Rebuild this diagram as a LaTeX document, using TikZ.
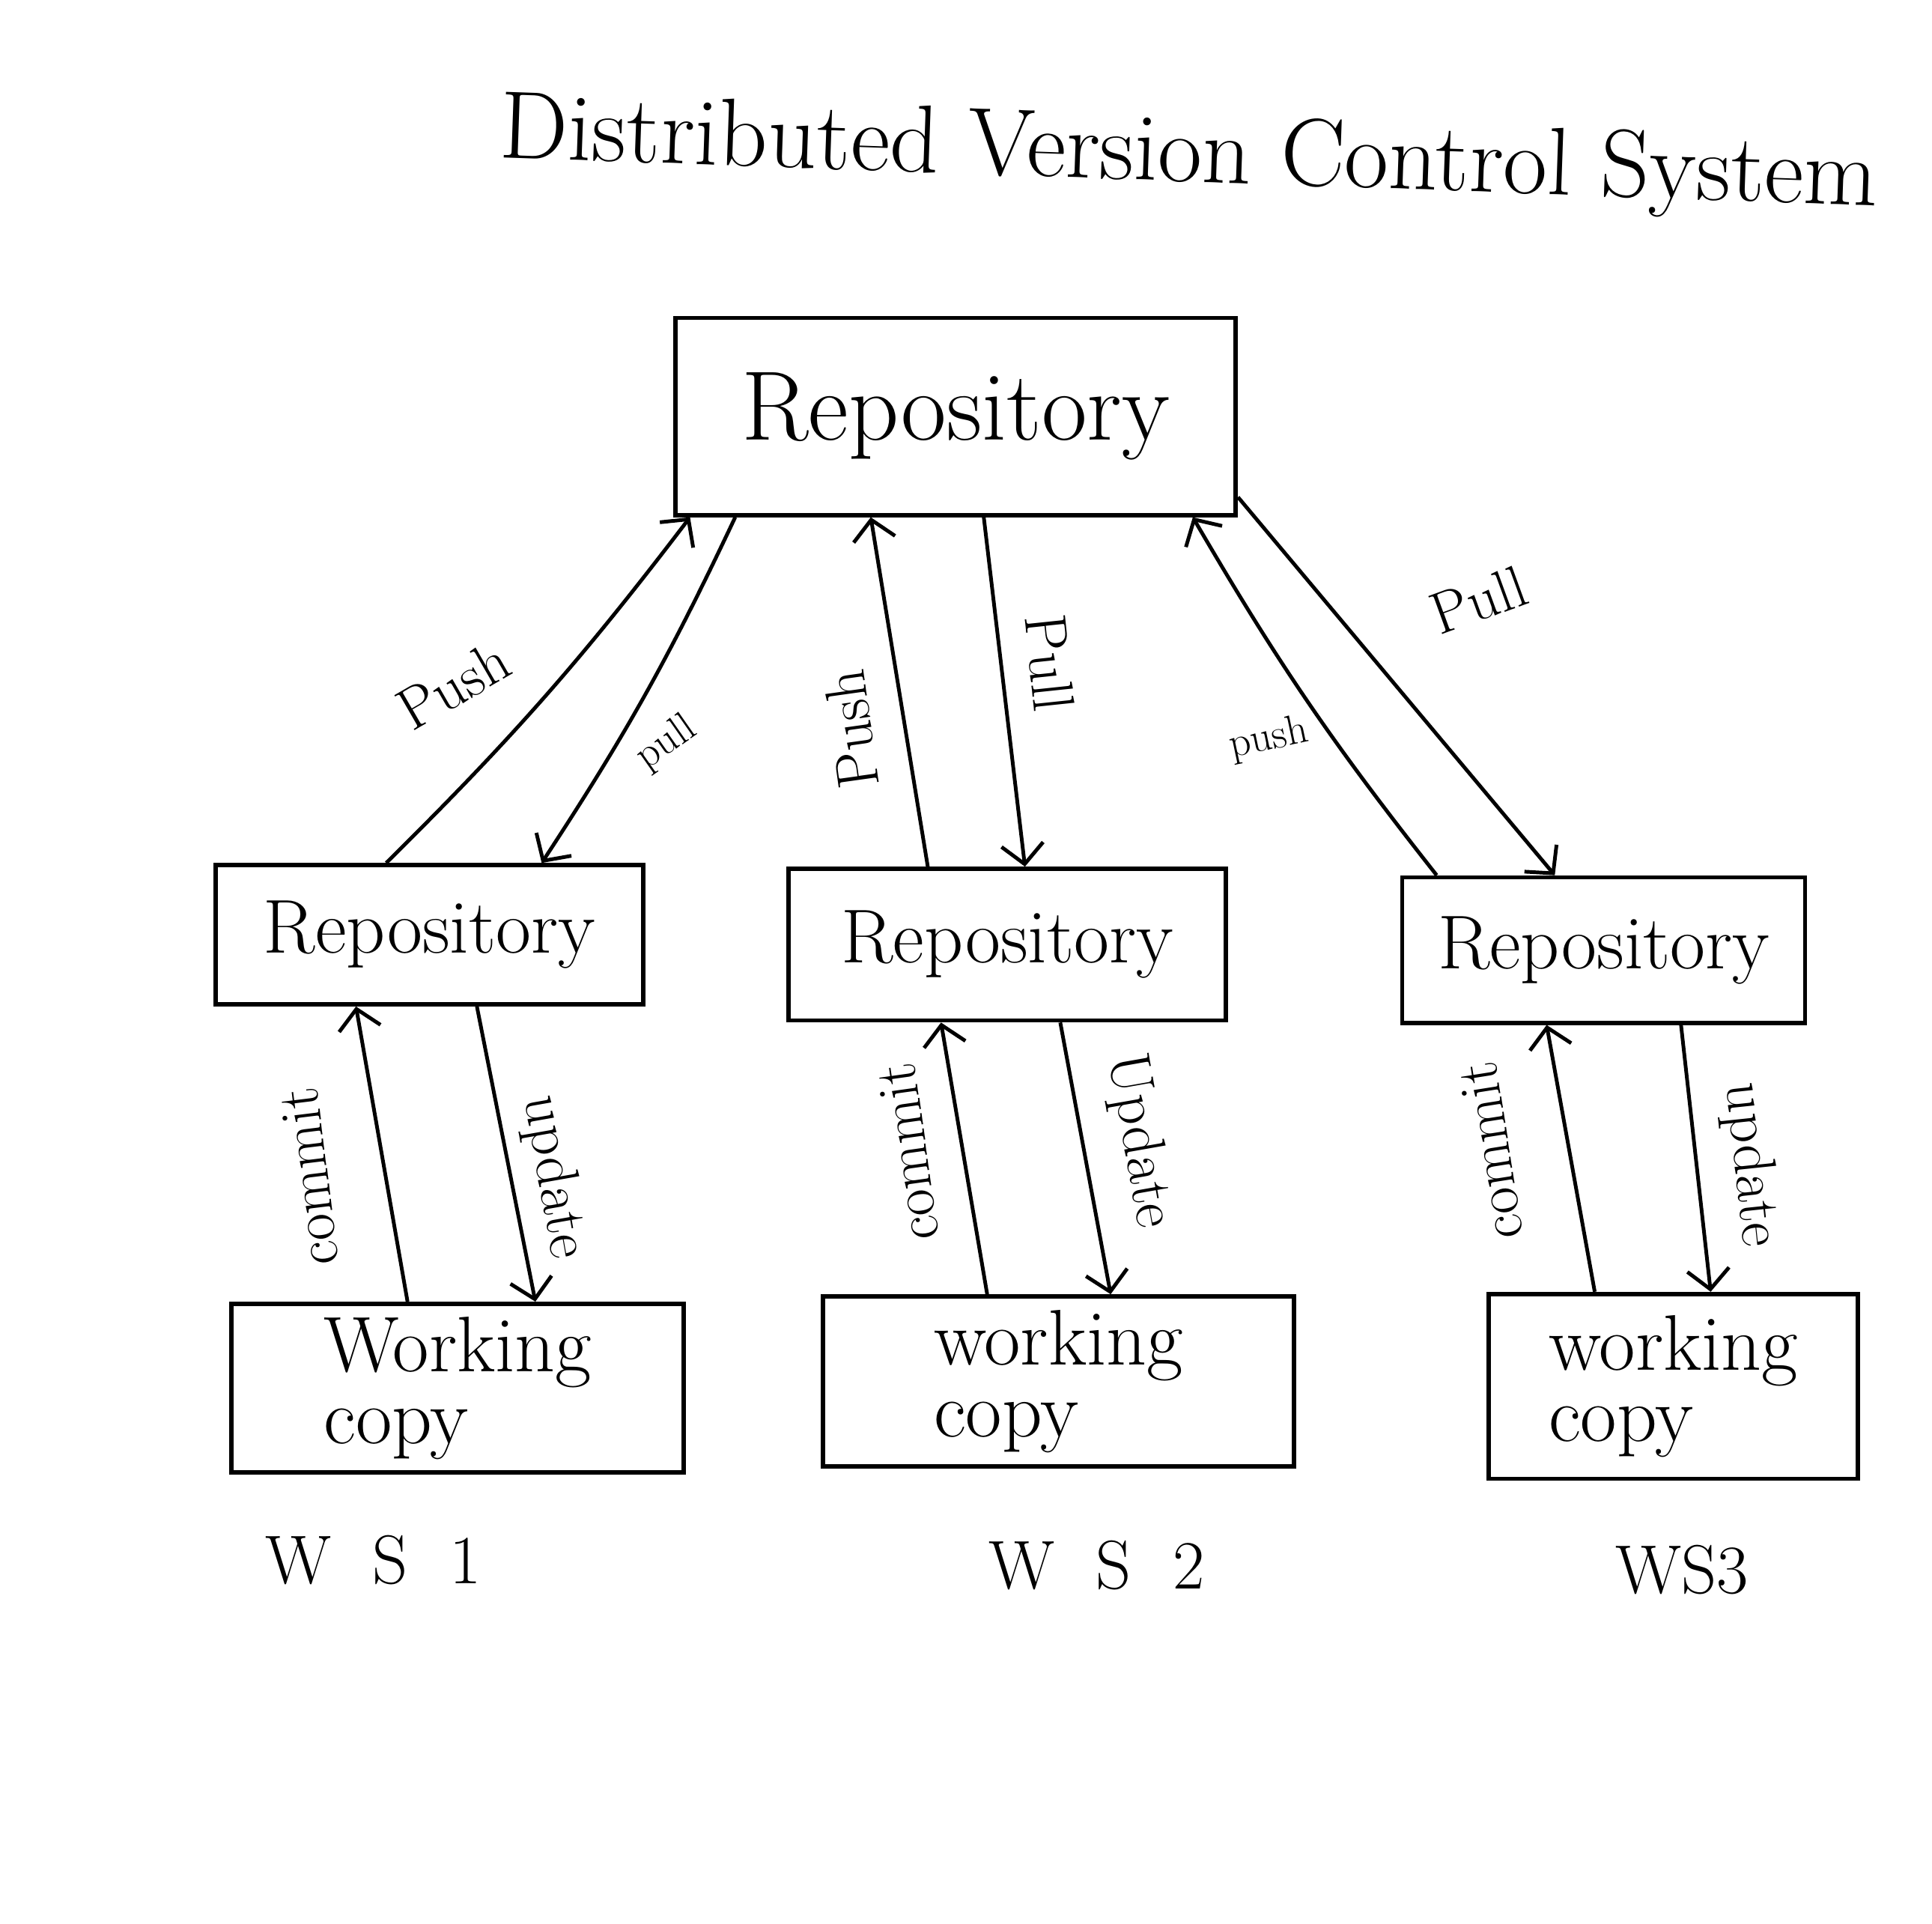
\documentclass[tikz,border=0pt]{standalone}
\usepackage{amsmath}
\usepackage{tikz}
\usetikzlibrary{calc,arrows.meta}

\tikzset{
  box/.style={draw, line width=3.5pt, rectangle, align=center, inner sep=2pt},
  wcbox/.style={box, align=left, font=\fontsize{64}{58}\selectfont},
  rbox/.style={box, font=\fontsize{62}{66}\selectfont},
  link/.style={line width=3pt, -{Straight Barb[length=16pt,width=34pt]}},
  lbl/.style={inner sep=0pt, font=\fontsize{48}{52}\selectfont},
  small/.style={inner sep=0pt, font=\fontsize{34}{40}\selectfont},
  wslbl/.style={font=\fontsize{56}{60}\selectfont},
}

\begin{document}
\begin{tikzpicture}[x=1pt,y=1pt,yscale=-1,xscale=1]
  \useasboundingbox (0,0) rectangle (1568,1561);
  %Title
  \node[rotate=-2, font=\fontsize{78}{86}\selectfont] (title) at (965,128) {Distributed Version Control System};
  %Central repository
  \node[box, minimum width=455pt, minimum height=160pt, font=\fontsize{80}{88}\selectfont] (top) at (775.5,338) {Repository};
  %Local repositories
  \node[rbox, minimum width=347pt, minimum height=113pt] (lrepo) at (348.5,758.5) {Repository};
  \node[rbox, minimum width=355pt, minimum height=123pt] (mrepo) at (817.5,766.5) {Repository};
  \node[rbox, minimum width=327pt, minimum height=118pt] (rrepo) at (1301.5,771) {Repository};
  %Working copies
  \node[wcbox, minimum width=367pt, minimum height=137pt] (lwork) at (371.5,1126.5) {Working\\copy};
  \node[wcbox, minimum width=382pt, minimum height=138pt] (mwork) at (859,1121) {working\\copy};
  \node[wcbox, minimum width=300pt, minimum height=150pt] (rwork) at (1358,1125) {working\\copy};
  %Workstations
  \node[wslbl] (ws1) at (303,1266) {W~ S~ 1};
  \node[wslbl] (ws2) at (890,1270) {W~ S~ 2};
  \node[wslbl] (ws3) at (1365,1274) {WS3};

  %Push / pull, left
  \draw[link] ($(lrepo.north west)!0.40!(lrepo.north east)$) to[bend left=4] ($(top.south west)!0.03!(top.south east)$);
  \draw[link] ($(top.south west)!0.11!(top.south east)$) to[bend right=4] ($(lrepo.north west)!0.76!(lrepo.north east)$);
  \node[lbl, rotate=30] (pushl) at (368,556) {Push};
  \node[small, rotate=35] (pulll) at (541,603) {pull};
  %Push / pull, middle
  \draw[link] ($(mrepo.north west)!0.32!(mrepo.north east)$) -- ($(top.south west)!0.35!(top.south east)$);
  \draw[link] ($(top.south west)!0.55!(top.south east)$) -- ($(mrepo.north west)!0.54!(mrepo.north east)$);
  \node[lbl, rotate=98] (pushm) at (691,592) {Push};
  \node[lbl, rotate=-84] (pullm) at (852,538) {Pull};
  %Push / pull, right
  \draw[link] ($(rrepo.north west)!0.09!(rrepo.north east)$) to[bend right=4] ($(top.south west)!0.92!(top.south east)$);
  \draw[link] ($(top.south east)!0.1!(top.north east)$) -- ($(rrepo.north west)!0.38!(rrepo.north east)$);
  \node[lbl, rotate=20] (pullr) at (1200,487) {Pull};
  \node[small, rotate=12] (pushr) at (1030,600) {push};

  %Commit / update
  \draw[link] ($(lwork.north west)!0.39!(lwork.north east)$) -- ($(lrepo.south west)!0.33!(lrepo.south east)$);
  \draw[link] ($(lrepo.south west)!0.61!(lrepo.south east)$) -- ($(lwork.north west)!0.67!(lwork.north east)$);
  \node[lbl, rotate=97] (comml) at (251,955) {commit};
  \node[lbl, rotate=-80] (updl) at (449,955) {update};
  \draw[link] ($(mwork.north west)!0.35!(mwork.north east)$) -- ($(mrepo.south west)!0.35!(mrepo.south east)$);
  \draw[link] ($(mrepo.south west)!0.62!(mrepo.south east)$) -- ($(mwork.north west)!0.61!(mwork.north east)$);
  \node[lbl, rotate=98] (commm) at (737,935) {commit};
  \node[lbl, rotate=-80] (updm) at (924,926) {Update};
  \draw[link] ($(rwork.north west)!0.29!(rwork.north east)$) -- ($(rrepo.south west)!0.36!(rrepo.south east)$);
  \draw[link] ($(rrepo.south west)!0.69!(rrepo.south east)$) -- ($(rwork.north west)!0.60!(rwork.north east)$);
  \node[lbl, rotate=99] (commr) at (1210,934) {commit};
  \node[lbl, rotate=-84] (updr) at (1420,945) {update};
\end{tikzpicture}
\end{document}
